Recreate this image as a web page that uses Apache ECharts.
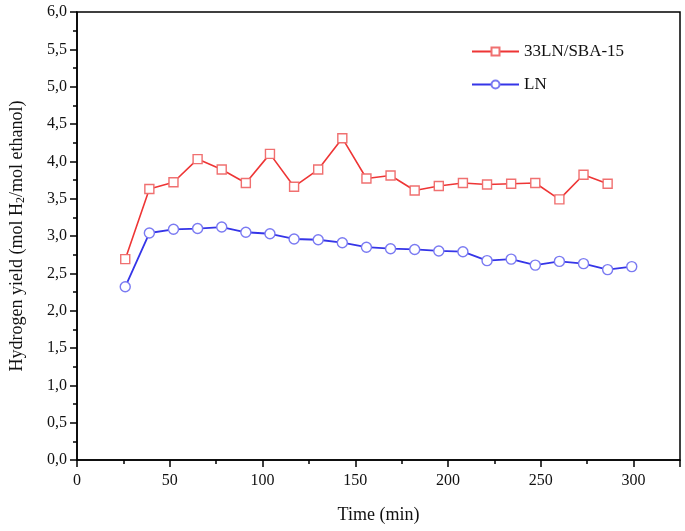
<!DOCTYPE html>
<html>
<head>
<meta charset="utf-8">
<script src="https://cdn.jsdelivr.net/npm/echarts@6/dist/echarts.min.js"></script>
<style>html,body{margin:0;padding:0;background:#fff}#c{width:685px;height:531px}</style>
</head>
<body>
<div id="c"></div>
<script>
const timeSBA = [26, 39, 52, 65, 78, 91, 104, 117, 130, 143, 156, 169, 182, 195, 208, 221, 234, 247, 260, 273, 286];
const ySBA    = [2.69, 3.63, 3.72, 4.03, 3.89, 3.71, 4.10, 3.66, 3.89, 4.31, 3.77, 3.81, 3.61, 3.67, 3.71, 3.69, 3.70, 3.71, 3.49, 3.82, 3.70];
const timeLN  = [26, 39, 52, 65, 78, 91, 104, 117, 130, 143, 156, 169, 182, 195, 208, 221, 234, 247, 260, 273, 286, 299];
const yLN     = [2.32, 3.04, 3.09, 3.10, 3.12, 3.05, 3.03, 2.96, 2.95, 2.91, 2.85, 2.83, 2.82, 2.80, 2.79, 2.67, 2.69, 2.61, 2.66, 2.63, 2.55, 2.59];
const seriesNames = ['33LN/SBA-15', 'LN'];

const font = 'Liberation Serif';
const chart = echarts.init(document.getElementById('c'), null, {renderer: 'canvas'});
const pair = (xs, ys) => xs.map((x, i) => [x, ys[i]]);
chart.setOption({
  backgroundColor: '#fff',
  animation: false,
  grid: {left: 77, right: 5, top: 12, bottom: 71, show: true, borderColor: '#000', borderWidth: 1.5},
  legend: {
    orient: 'vertical', left: 466, top: 38, itemWidth: 47, itemHeight: 10, itemGap: 16,
    textStyle: {fontFamily: font, fontSize: 17, color: '#111'},
    data: seriesNames
  },
  xAxis: {
    type: 'value', min: 0, max: 325, interval: 50,
    name: 'Time (min)', nameLocation: 'middle', nameGap: 46,
    nameTextStyle: {fontFamily: font, fontSize: 18, color: '#111'},
    axisLine: {show: true, onZero: false, lineStyle: {color: '#000', width: 1.5}},
    axisTick: {show: true, inside: false, length: 7, lineStyle: {color: '#000', width: 1.5}},
    minorTick: {show: true, splitNumber: 2, length: 4, lineStyle: {color: '#000', width: 1.5}},
    axisLabel: {fontFamily: font, fontSize: 16, color: '#111', margin: 13,
      formatter: v => (v > 300 ? '' : String(v))},
    splitLine: {show: false}
  },
  yAxis: {
    type: 'value', min: 0, max: 6, interval: 0.5,
    name: '{a|Hydrogen yield (mol H}{s|2}{a|/mol ethanol)}', nameLocation: 'middle', nameGap: 50, nameRotate: 90,
    nameTextStyle: {fontFamily: font, fontSize: 18, color: '#111',
      rich: {a: {fontFamily: font, fontSize: 18, color: '#111'},
             s: {fontFamily: font, fontSize: 12, color: '#111', padding: [8, 0, 0, 0]}}},
    axisLine: {show: true, lineStyle: {color: '#000', width: 1.5}},
    axisTick: {show: true, inside: false, length: 7, lineStyle: {color: '#000', width: 1.5}},
    minorTick: {show: true, splitNumber: 2, length: 4, lineStyle: {color: '#000', width: 1.5}},
    axisLabel: {fontFamily: font, fontSize: 16, color: '#111', margin: 10,
      formatter: v => v.toFixed(1).replace('.', ',')},
    splitLine: {show: false}
  },
  series: [
    {
      name: seriesNames[0], type: 'line', data: pair(timeSBA, ySBA),
      symbol: 'rect', symbolSize: 9, showAllSymbol: true,
      lineStyle: {color: '#ee3535', width: 1.6},
      itemStyle: {color: '#fff', borderColor: '#f07070', borderWidth: 1.4},
      z: 3
    },
    {
      name: seriesNames[1], type: 'line', data: pair(timeLN, yLN),
      symbol: 'circle', symbolSize: 10, showAllSymbol: true,
      lineStyle: {color: '#3535e8', width: 1.8},
      itemStyle: {color: '#fff', borderColor: '#7a7af2', borderWidth: 1.4},
      z: 2
    }
  ]
});
</script>
</body>
</html>
